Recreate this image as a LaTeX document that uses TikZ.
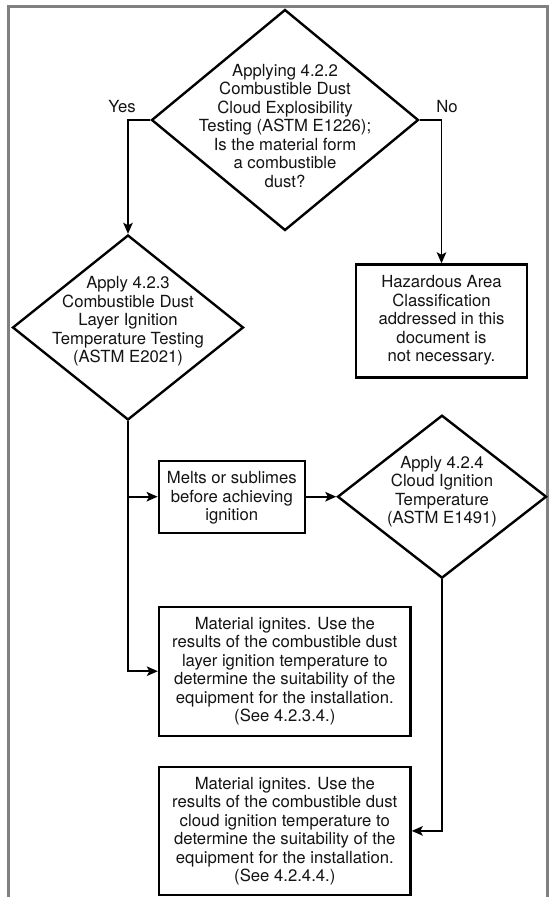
\documentclass[tikz,border=0pt]{standalone}
\usepackage{fontspec}
\setmainfont{TeX Gyre Heros}
\usetikzlibrary{shapes.geometric,arrows.meta}
\begin{document}
\begin{tikzpicture}[x=1pt,y=-1pt,
  txt/.style={font=\fontsize{16.7}{18.5}\selectfont, align=center, text=black!92, inner sep=0pt},
  decision/.style={diamond, draw, line width=2.4pt, inner sep=0pt},
  procbox/.style={rectangle, draw, line width=2.4pt, inner sep=0pt},
  flow/.style={line width=1.8pt, -{Stealth[length=11pt,width=9.5pt,inset=2.5pt]}},
  frameline/.style={draw=black!50, line width=3pt, line join=miter}
]
\useasboundingbox (0,0) rectangle (550,897);
\fill[white] (0,0) rectangle (550,897);

% open frame round the chart
\draw[frameline] (8.5,900) -- (8.5,6.7) -- (547.5,6.7) -- (547.5,900);

% decisions
\node[decision, minimum width=267pt, minimum height=221pt] (d1) at (285,120) {};
\node[txt] (d1t) at (285,126) {Applying 4.2.2\\Combustible Dust\\Cloud Explosibility\\Testing (ASTM E1226);\\Is the material form\\a combustible\\dust?};

\node[decision, minimum width=231pt, minimum height=185pt] (d2) at (128,327.5) {};
\node[txt] (d2t) at (128,321.5) {Apply 4.2.3\\Combustible Dust\\Layer Ignition\\Temperature Testing\\(ASTM E2021)};

\node[decision, minimum width=209pt, minimum height=163pt] (d3) at (442,496.7) {};
\node[txt] (d3t) at (442,491.5) {Apply 4.2.4\\Cloud Ignition\\Temperature\\(ASTM E1491)};

% outcome boxes
\node[procbox, minimum width=171pt, minimum height=113pt] (haz) at (441.5,321) {};
\node[txt] (hazt) at (441.5,320.5) {Hazardous Area\\Classification\\addressed in this\\document is\\not necessary.};

\node[procbox, minimum width=146pt, minimum height=72pt] (melt) at (231.8,496.7) {};
\node[txt] (meltt) at (231.8,498) {Melts or sublimes\\before achieving\\ignition};

\node[procbox, minimum width=251.5pt, minimum height=129pt] (mat1) at (284.8,671.2) {};
\node[txt] (mat1t) at (284.8,671) {Material ignites. Use the\\results of the combustible dust\\layer ignition temperature to\\determine the suitability of the\\equipment for the installation.\\(See 4.2.3.4.)};

\node[procbox, minimum width=251.5pt, minimum height=128pt] (mat2) at (284.8,830.9) {};
\node[txt] (mat2t) at (284.8,831) {Material ignites. Use the\\results of the combustible dust\\cloud ignition temperature to\\determine the suitability of the\\equipment for the installation.\\(See 4.2.4.4.)};

% branch labels
\node[txt] (yes) at (122,107) {Yes};
\node[txt] (no) at (447,107) {No};

% connectors
\draw[flow] (d1.west) -| (d2.north);
\draw[flow] (d1.east) -| (haz.north);
\draw[flow] (d2.south) |- (mat1.west);
\draw[flow] (d2.south |- melt.west) -- (melt.west);
\draw[flow] (melt.east) -- (d3.west);
\draw[flow] (d3.south) |- (mat2.east);
\end{tikzpicture}
\end{document}
